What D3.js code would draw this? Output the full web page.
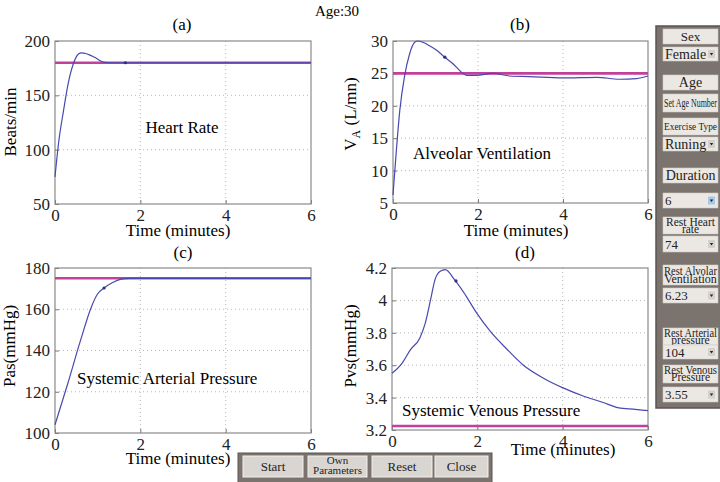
<!DOCTYPE html>
<html><head><meta charset="utf-8">
<script src="https://cdn.jsdelivr.net/npm/d3@7"></script>
<style>
html,body{margin:0;padding:0;background:#fff;}
svg text{font-family:"Liberation Serif","Times New Roman",serif;}
</style></head>
<body><svg id="c" width="720" height="482"></svg>
<script>
// ---- data ----
const xTicks = [0, 2, 4, 6];
const hrTime = [0,0.08,0.2,0.31,0.43,0.55,0.62,0.72,0.82,0.95,1.05,1.13,1.3,6];
const hrVals = [75,105,136,161,179,188,189,188.5,187,184.5,182,180.7,180,180];
const hrRef = 180;
const hrTicks = [50,100,150,200];

const vaTime = [0,0.08,0.16,0.27,0.39,0.51,0.59,0.7,0.85,1.02,1.22,1.41,1.61,1.73,1.96,2.35,2.75,3.2,4,4.8,5.33,5.73,6];
const vaVals = [6.23,13.2,19.3,24.5,28,29.8,30,29.8,29.3,28.6,27.5,26.5,25.2,24.7,24.7,25,24.6,24.5,24.3,24.4,24.1,24.2,24.6];
const vaRef = 25;
const vaTicks = [5,10,15,20,25,30];

const pasTime = [0,0.3,0.6,0.85,1.0,1.15,1.35,1.55,1.75,6];
const pasVals = [104,124,145,161,167.5,170.3,173,174.6,175,175];
const pasRef = 175;
const pasTicks = [100,120,140,160,180];

const pvsTime = [0,0.23,0.43,0.65,0.78,0.9,1.01,1.13,1.25,1.46,1.68,1.99,2.3,2.69,3.08,3.55,4.01,4.48,4.95,5.26,5.57,6];
const pvsVals = [3.55,3.61,3.695,3.767,3.86,4.0,4.13,4.18,4.19,4.13,4.05,3.92,3.81,3.70,3.60,3.52,3.46,3.41,3.37,3.34,3.33,3.32];
const pvsRef = 3.225;
const pvsTicks = [3.2,3.4,3.6,3.8,4,4.2];

const svg = d3.select("#c");
const FS = 17;

svg.append("text").attr("x",337).attr("y",16).attr("text-anchor","middle")
  .attr("font-size",15).text("Age:30");

function panel(o){
  const x = d3.scaleLinear().domain([0,6]).range([o.x0,o.x1]);
  const y = d3.scaleLinear().domain(o.dom).range([o.y1,o.y0]);
  const g = svg.append("g");
  g.selectAll(".gx").data(xTicks.slice(1,-1)).join("line")
    .attr("x1",d=>x(d)).attr("x2",d=>x(d)).attr("y1",o.y0).attr("y2",o.y1)
    .attr("stroke","#b8b8b8").attr("stroke-dasharray","1,3");
  g.selectAll(".gy").data(o.ticks.slice(1,-1)).join("line")
    .attr("y1",d=>y(d)).attr("y2",d=>y(d)).attr("x1",o.x0).attr("x2",o.x1)
    .attr("stroke","#b8b8b8").attr("stroke-dasharray","1,3");
  const ax = d3.axisBottom(x).tickValues(xTicks).tickSize(-4).tickPadding(8).tickFormat(d3.format("d"));
  const ay = d3.axisLeft(y).tickValues(o.ticks).tickSize(-4).tickPadding(5).tickFormat(o.fmt);
  const gx = g.append("g").attr("transform",`translate(0,${o.y1})`).call(ax);
  const gy = g.append("g").attr("transform",`translate(${o.x0},0)`).call(ay);
  [gx,gy].forEach(a=>{
    a.select(".domain").remove();
    a.selectAll("line").attr("stroke","#777");
    a.selectAll("text").attr("font-size",FS).attr("fill","#222")
      .attr("font-family","Liberation Serif");
  });
  gx.selectAll("text").attr("dy","0.55em");
  g.append("rect").attr("x",o.x0).attr("y",o.y0).attr("width",o.x1-o.x0).attr("height",o.y1-o.y0)
    .attr("fill","none").attr("stroke","#8a8a8a").attr("stroke-width",1.2);
  g.append("line").attr("x1",o.x0).attr("x2",o.x1).attr("y1",y(o.ref)).attr("y2",y(o.ref))
    .attr("stroke","#c2409a").attr("stroke-width",2.6);
  const pts = o.t.map((t,i)=>[t,o.v[i]]);
  const line = d3.line().x(d=>x(d[0])).y(d=>y(d[1])).curve(d3.curveMonotoneX);
  g.append("path").attr("d",line(pts)).attr("fill","none").attr("stroke","#4848b0").attr("stroke-width",1.2);
  g.append("circle").attr("cx",x(o.mk[0])).attr("cy",y(o.mk[1])).attr("r",1.6).attr("fill","#30307a");
  g.append("text").attr("x",o.lx).attr("y",o.ly).attr("text-anchor","middle").attr("font-size",FS).text(o.letter);
  g.append("text").attr("x",o.tx).attr("y",o.ty).attr("text-anchor","middle").attr("font-size",FS).text("Time (minutes)");
  const yl = g.append("text").attr("transform",`translate(${o.yx},${o.yy}) rotate(-90)`)
    .attr("text-anchor","middle").attr("font-size",FS);
  if(o.sub){
    yl.append("tspan").text("V");
    yl.append("tspan").attr("font-size",12).attr("dy",4).text("A");
    yl.append("tspan").attr("dy",-4).text(" (L/mn)");
  } else yl.text(o.ylab);
  g.append("text").attr("x",o.ax).attr("y",o.ay).attr("text-anchor",o.anchor).attr("font-size",FS).text(o.ann);
}

panel({x0:55,x1:311,y0:41,y1:204,dom:[50,200],ticks:hrTicks,fmt:d3.format("d"),t:hrTime,v:hrVals,ref:hrRef,
  mk:[1.65,180],letter:"(a)",lx:182,ly:30,tx:178,ty:236,yx:16,yy:122,ylab:"Beats/min",
  ann:"Heart Rate",ax:182,ay:133,anchor:"middle"});
panel({x0:393,x1:648,y0:41,y1:203,dom:[5,30],ticks:vaTicks,fmt:d3.format("d"),t:vaTime,v:vaVals,ref:vaRef,
  mk:[1.22,27.5],letter:"(b)",lx:520,ly:30,tx:516,ty:236,yx:356,yy:114,sub:true,
  ann:"Alveolar Ventilation",ax:413,ay:159,anchor:"start"});
panel({x0:55,x1:311,y0:268,y1:433,dom:[100,180],ticks:pasTicks,fmt:d3.format("d"),t:pasTime,v:pasVals,ref:pasRef,
  mk:[1.15,170.3],letter:"(c)",lx:183,ly:258,tx:178,ty:464,yx:15,yy:346,ylab:"Pas(mmHg)",
  ann:"Systemic Arterial Pressure",ax:77,ay:384,anchor:"start"});
panel({x0:392,x1:648,y0:268,y1:430,dom:[3.2,4.2],ticks:pvsTicks,fmt:d=>d===4?"4":d3.format(".1f")(d),t:pvsTime,v:pvsVals,ref:pvsRef,
  mk:[1.5,4.12],letter:"(d)",lx:525,ly:258,tx:563,ty:455,yx:356,yy:346,ylab:"Pvs(mmHg)",
  ann:"Systemic Venous Pressure",ax:402,ay:416,anchor:"start"});

// ---- right control panel ----
const side = svg.append("g");
side.append("rect").attr("x",656).attr("y",26).attr("width",66).attr("height",382)
  .attr("fill","#7b736d").attr("stroke","#5b5450").attr("stroke-width",1.5);
const widgets = [
  {y0:29,y1:44,k:"l",lines:["Sex"],fs:13},
  {y0:47,y1:61,k:"d",text:"Female",fs:14},
  {y0:75,y1:90,k:"l",lines:["Age"],fs:14},
  {y0:94,y1:112,k:"l",lines:["Set Age Number"],fs:12},
  {y0:118,y1:135,k:"l",lines:["Exercise Type"],fs:11},
  {y0:137,y1:151,k:"d",text:"Runing",fs:14},
  {y0:168,y1:183,k:"l",lines:["Duration"],fs:14},
  {y0:193,y1:208,k:"d",text:"6",fs:13,blue:true},
  {y0:217,y1:234,k:"l",lines:["Rest Heart","rate"],fs:11.5},
  {y0:236,y1:252,k:"d",text:"74",fs:13},
  {y0:265,y1:285,k:"l",lines:["Rest Alvolar","Ventilation"],fs:12},
  {y0:288,y1:303,k:"d",text:"6.23",fs:13},
  {y0:328,y1:345,k:"l",lines:["Rest Arterial","pressure"],fs:11.5},
  {y0:345,y1:359,k:"d",text:"104",fs:13},
  {y0:365,y1:383,k:"l",lines:["Rest Venous","Pressure"],fs:11.5},
  {y0:387,y1:402,k:"d",text:"3.55",fs:13}
];
widgets.forEach(w=>{
  side.append("rect").attr("x",663).attr("y",w.y0).attr("width",55).attr("height",w.y1-w.y0)
    .attr("fill","#ebe8e4").attr("stroke","#d0ccc6").attr("stroke-width",0.6);
  if(w.k==="l"){
    const n=w.lines.length, h=w.y1-w.y0;
    w.lines.forEach((s,i)=>{
      const ty = n===1 ? w.y0+h/2+w.fs*0.35 : w.y0+(h<19?8.5:9.5)+i*(h<19?7.8:8.8);
      const t=side.append("text").attr("x",0).attr("y",0).attr("text-anchor","middle").attr("font-size",w.fs)
        .attr("fill","#222").text(s);
      const wd=t.node().getComputedTextLength();
      const sx = wd>53 ? 53/wd : 1;
      t.attr("transform",`translate(690.5,${ty}) scale(${sx},1)`);
    });
  } else {
    side.append("text").attr("x",665).attr("y",(w.y0+w.y1)/2+w.fs*0.35).attr("font-size",w.fs)
      .attr("fill","#222").text(w.text);
    side.append("rect").attr("x",708).attr("y",(w.y0+w.y1)/2-4).attr("width",7).attr("height",8)
      .attr("fill",w.blue?"#a9c7e6":"#d4d0cb");
    side.append("path").attr("d",`M709.8,${(w.y0+w.y1)/2-1}l1.7,2.4l1.7,-2.4z`).attr("fill","#222");
  }
});

// ---- bottom buttons ----
const bb = svg.append("g");
bb.append("rect").attr("x",238).attr("y",453).attr("width",254).attr("height",30)
  .attr("fill","#7b736d").attr("stroke","#5b5450");
const buttons = [
  {x0:243,x1:303,lines:["Start"]},
  {x0:308,x1:367,lines:["Own","Parameters"]},
  {x0:372,x1:432,lines:["Reset"]},
  {x0:435,x1:488,lines:["Close"]}
];
buttons.forEach(b=>{
  bb.append("rect").attr("x",b.x0).attr("y",456).attr("width",b.x1-b.x0).attr("height",21)
    .attr("fill","#d9d6d2").attr("stroke","#f2f0ee").attr("stroke-width",1);
  const cx=(b.x0+b.x1)/2;
  if(b.lines.length===1){
    bb.append("text").attr("x",cx).attr("y",471).attr("text-anchor","middle").attr("font-size",13).attr("fill","#222").text(b.lines[0]);
  } else {
    bb.append("text").attr("x",cx).attr("y",464).attr("text-anchor","middle").attr("font-size",11).attr("fill","#222").text(b.lines[0]);
    bb.append("text").attr("x",cx).attr("y",474).attr("text-anchor","middle").attr("font-size",11).attr("fill","#222").text(b.lines[1]);
  }
});
</script></body></html>
